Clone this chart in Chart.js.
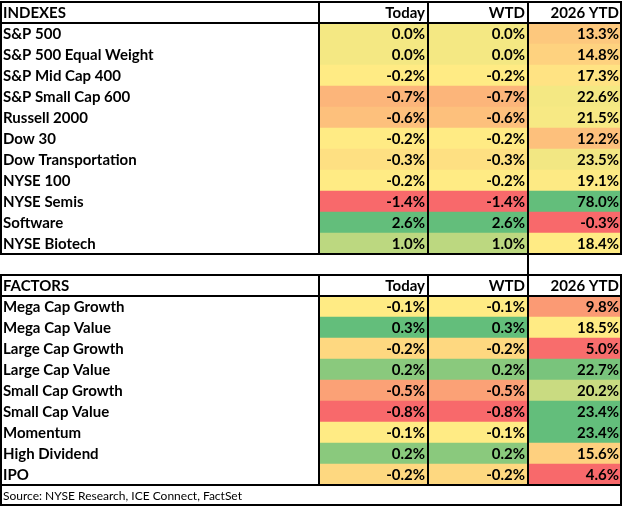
<!DOCTYPE html>
<html>
<head>
<meta charset="utf-8">
<script src="https://cdn.jsdelivr.net/npm/chart.js@4.4.1/dist/chart.umd.min.js"></script>
<style>
  html, body { margin: 0; padding: 0; background: #fff; }
  #wrap { width: 624px; height: 508px; }
</style>
</head>
<body>
<div id="wrap"><canvas id="c"></canvas></div>
<script>
const columns = ['Today', 'WTD', '2026 YTD'];

const indexNames = ['S&P 500', 'S&P 500 Equal Weight', 'S&P Mid Cap 400', 'S&P Small Cap 600', 'Russell 2000',
    'Dow 30', 'Dow Transportation', 'NYSE 100', 'NYSE Semis', 'Software', 'NYSE Biotech'];
const indexToday = [0.0, 0.0, -0.2, -0.7, -0.6, -0.2, -0.3, -0.2, -1.4, 2.6, 1.0];
const indexWtd = [0.0, 0.0, -0.2, -0.7, -0.6, -0.2, -0.3, -0.2, -1.4, 2.6, 1.0];
const indexYtd = [13.3, 14.8, 17.3, 22.6, 21.5, 12.2, 23.5, 19.1, 78.0, -0.3, 18.4];

const factorNames = ['Mega Cap Growth', 'Mega Cap Value', 'Large Cap Growth', 'Large Cap Value', 'Small Cap Growth',
    'Small Cap Value', 'Momentum', 'High Dividend', 'IPO'];
const factorToday = [-0.1, 0.3, -0.2, 0.2, -0.5, -0.8, -0.1, 0.2, -0.2];
const factorWtd = [-0.1, 0.3, -0.2, 0.2, -0.5, -0.8, -0.1, 0.2, -0.2];
const factorYtd = [9.8, 18.5, 5.0, 22.7, 20.2, 23.4, 23.4, 15.6, 4.6];

const sourceText = 'Source: NYSE Research, ICE Connect, FactSet';

// column widths in px (name, today, wtd, ytd)
const colWidths = [319, 109, 100, 94];

// Excel style 3-colour scale: min red, median yellow, max green
const RED = [248, 105, 107], YEL = [255, 235, 132], GRN = [99, 190, 123];
function mix(a, b, t) {
    return 'rgb(' + a.map((v, i) => Math.round(v + (b[i] - v) * t)).join(',') + ')';
}
function scaleColors(vals) {
    const s = [...vals].sort((a, b) => a - b);
    const min = s[0], max = s[s.length - 1];
    const mid = s.length % 2 ? s[(s.length - 1) / 2] : (s[s.length / 2 - 1] + s[s.length / 2]) / 2;
    return vals.map(v => {
        if (v <= mid) return mix(RED, YEL, mid === min ? 1 : (v - min) / (mid - min));
        return mix(YEL, GRN, max === mid ? 0 : (v - mid) / (max - mid));
    });
}

// build row table: header, indexes, blank, header, factors, source
const rows = [];
rows.push({kind: 'head', name: 'INDEXES'});
indexNames.forEach((n, i) => rows.push({kind: 'data', name: n, vals: [indexToday[i], indexWtd[i], indexYtd[i]],
    cols: [scaleColors(indexToday)[i], scaleColors(indexWtd)[i], scaleColors(indexYtd)[i]]}));
rows.push({kind: 'blank'});
rows.push({kind: 'head', name: 'FACTORS'});
factorNames.forEach((n, i) => rows.push({kind: 'data', name: n, vals: [factorToday[i], factorWtd[i], factorYtd[i]],
    cols: [scaleColors(factorToday)[i], scaleColors(factorWtd)[i], scaleColors(factorYtd)[i]]}));
rows.push({kind: 'source', name: sourceText});

const datasets = colWidths.map((w, ci) => ({
    data: rows.map(() => w),
    backgroundColor: rows.map(r => (ci > 0 && r.kind === 'data') ? r.cols[ci - 1] : '#ffffff'),
    borderWidth: 0,
    barPercentage: 1,
    categoryPercentage: 1,
    stack: 's'
}));

const FONT = 'bold 15px Lato, "Open Sans", sans-serif';

const tablePlugin = {
    id: 'table',
    afterDatasetsDraw(chart) {
        const ctx = chart.ctx, x = chart.scales.x, y = chart.scales.y;
        const edges = [0];
        colWidths.forEach(w => edges.push(edges[edges.length - 1] + w));
        const X = edges.map(e => x.getPixelForValue(e));
        const half = (y.getPixelForValue(1) - y.getPixelForValue(0)) / 2;
        const top = i => y.getPixelForValue(i) - half, bot = i => y.getPixelForValue(i) + half;

        ctx.save();
        ctx.textBaseline = 'middle';
        ctx.fillStyle = '#000';
        rows.forEach((r, i) => {
            const cy = y.getPixelForValue(i) + 1;
            if (r.kind === 'source') {
                ctx.font = '12px Lato, "Open Sans", sans-serif';
                ctx.textAlign = 'left';
                ctx.fillText(r.name, X[0] + 3, cy);
                return;
            }
            if (r.kind === 'blank') return;
            ctx.font = FONT;
            ctx.textAlign = 'left';
            ctx.fillText(r.name, X[0] + 3, cy);
            ctx.textAlign = 'right';
            for (let c = 0; c < 3; c++) {
                const t = r.kind === 'head' ? columns[c] : r.vals[c].toFixed(1) + '%';
                ctx.fillText(t, X[c + 2] - 3, cy);
            }
        });

        ctx.strokeStyle = '#000';
        ctx.lineWidth = 2;
        const line = (x1, y1, x2, y2) => { ctx.beginPath(); ctx.moveTo(x1, y1); ctx.lineTo(x2, y2); ctx.stroke(); };
        const box = (r0, r1) => {
            const t = top(r0), b = bot(r1);
            ctx.strokeRect(X[0] + 1, t, X[4] - X[0] - 2, b - t);
            X.slice(1, 4).forEach(px => line(px, t, px, b));
            line(X[0], bot(r0), X[4], bot(r0));
        };
        const blankIdx = rows.findIndex(r => r.kind === 'blank');
        const srcIdx = rows.length - 1;
        box(0, blankIdx - 1);
        box(blankIdx + 1, srcIdx - 1);
        line(X[3], top(blankIdx), X[3], bot(blankIdx));
        ctx.strokeRect(X[0] + 1, top(srcIdx), X[4] - X[0] - 2, bot(srcIdx) - top(srcIdx) - 1);
        ctx.restore();
    }
};

new Chart(document.getElementById('c'), {
    type: 'bar',
    data: {labels: rows.map((r, i) => String(i)), datasets},
    options: {
        indexAxis: 'y',
        responsive: true,
        maintainAspectRatio: false,
        animation: false,
        layout: {padding: {top: 2, bottom: 2, left: 0, right: 2}},
        plugins: {legend: {display: false}, tooltip: {enabled: false}},
        scales: {
            x: {stacked: true, display: false, min: 0, max: colWidths.reduce((a, b) => a + b, 0)},
            y: {stacked: true, display: false, offset: true, grid: {display: false}}
        }
    },
    plugins: [tablePlugin]
});
</script>
</body>
</html>
